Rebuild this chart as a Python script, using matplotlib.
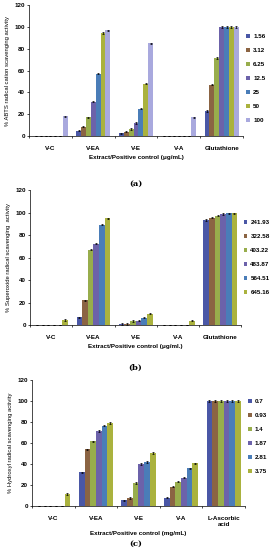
import matplotlib
matplotlib.use("Agg")
import matplotlib.pyplot as plt
import numpy as np

plt.rcParams['font.family'] = ['Liberation Sans', 'DejaVu Sans']

# panel (a) ABTS
cats_a = ['V-C', 'V-EA', 'V-E', 'V-A', 'Glutathione']
conc_a = ['1.56', '3.12', '6.25', '12.5', '25', '50', '100']
vals_a = [
    [0, 5, 2.5, 0, 23],
    [0, 8.5, 4, 0, 47],
    [0, 17, 6.5, 0, 71.5],
    [0, 31.5, 12, 0, 100],
    [0, 57, 25, 0, 100],
    [0, 94.5, 48, 0, 100],
    [18, 97, 85, 17, 100],
]

# panel (b) superoxide
cats_b = ['V-C', 'V-EA', 'V-E', 'V-A', 'Glutathione']
conc_b = ['241.93', '322.58', '403.22', '483.87', '564.51', '645.16']
vals_b = [
    [0, 7, 1, 0, 93.5],
    [0, 22, 0.8, 0, 95.5],
    [0, 67, 3.5, 0, 97.5],
    [0, 72.5, 4, 0, 99],
    [0, 89.5, 6.5, 0, 99.5],
    [4.5, 95, 10, 4, 99.5],
]

# panel (c) hydroxyl
cats_c = ['V-C', 'V-EA', 'V-E', 'V-A', 'L-Ascorbic\nacid']
conc_c = ['0.7', '0.93', '1.4', '1.87', '2.81', '3.75']
vals_c = [
    [0, 32, 5.5, 8, 100],
    [0, 54, 7.5, 18.5, 100],
    [0, 61.5, 22, 23, 100],
    [0, 71.5, 40, 27, 100],
    [0, 76.5, 42, 36, 100],
    [11.5, 79, 50.5, 40.5, 100],
]

colors7 = ['#4a57a6', '#8b6443', '#98ad4c', '#6c62aa', '#4a7db8', '#aab23e', '#a9a9de']
colors6 = ['#4a57a6', '#8b6443', '#98ad4c', '#6c62aa', '#4a7db8', '#aab23e']

fig = plt.figure(figsize=(2.71, 5.5), dpi=100)


def panel(rect, cats, conc, vals, colors, ylabel, xlabel, tag, tag_y, leg_xy):
    ax = fig.add_axes(rect)
    n = len(conc)
    x = np.arange(len(cats))
    gw = 0.8
    w = gw / n
    for i in range(n):
        pos = x - gw / 2 + w * (i + 0.5)
        ax.bar(pos, vals[i], w, color=colors[i], label=conc[i],
               yerr=[0.6 if v > 0 else 0 for v in vals[i]],
               error_kw=dict(ecolor='black', elinewidth=0.5, capsize=0.8, capthick=0.5))
    ax.set_xlim(-0.5, len(cats) - 0.5)
    ax.set_ylim(0, 120)
    ax.set_yticks(range(0, 121, 20))
    ax.set_xticks(x)
    ax.set_xticklabels(cats, fontsize=4.5, fontweight='bold')
    ax.set_xticks(np.arange(-0.5, len(cats)), minor=True)
    ax.tick_params(axis='x', which='major', length=0, pad=7)
    ax.tick_params(axis='x', which='minor', length=1.5, width=0.5)
    ax.tick_params(axis='y', labelsize=4.5, length=1.5, width=0.5, pad=1.5)
    for lab in ax.get_yticklabels():
        lab.set_fontweight('bold')
    for s in ['top', 'right']:
        ax.spines[s].set_visible(False)
    for s in ['left', 'bottom']:
        ax.spines[s].set_linewidth(0.5)
    ax.set_ylabel(ylabel, fontsize=4.2, labelpad=3)
    ax.set_xlabel(xlabel, fontsize=4.5, fontweight='bold', labelpad=3)
    ax.legend(loc='center left', bbox_to_anchor=leg_xy, frameon=False,
              handlelength=0.6, handleheight=0.6,
              handletextpad=0.5, labelspacing=1.4, borderpad=0,
              prop={'weight': 'bold', 'size': 4.5})
    fig.text(0.5, tag_y, tag, ha='center', va='center', fontsize=6,
             fontweight='bold', family='DejaVu Serif')
    return ax


panel([0.107, 0.7527, 0.79, 0.238], cats_a, conc_a, vals_a, colors7,
      '% ABTS radical cation scavenging activity',
      'Extract/Positive control (\u03bcg/mL)', '(a)', 1 - 184 / 550, (1.0, 0.44))

panel([0.111, 0.409, 0.78, 0.245], cats_b, conc_b, vals_b, colors6,
      '% Superoxide radical scavenging  activity',
      'Extract/Positive control (\u03bcg/ml.)', '(b)', 1 - 368 / 550, (0.995, 0.5))

panel([0.118, 0.08, 0.786, 0.229], cats_c, conc_c, vals_c, colors6,
      '% Hydroxyl radical scavenging activity',
      'Extract/Positive control (mg/mL)', '(c)', 1 - 544 / 550, (1.0, 0.55))

fig.savefig('out.png', dpi=100)
